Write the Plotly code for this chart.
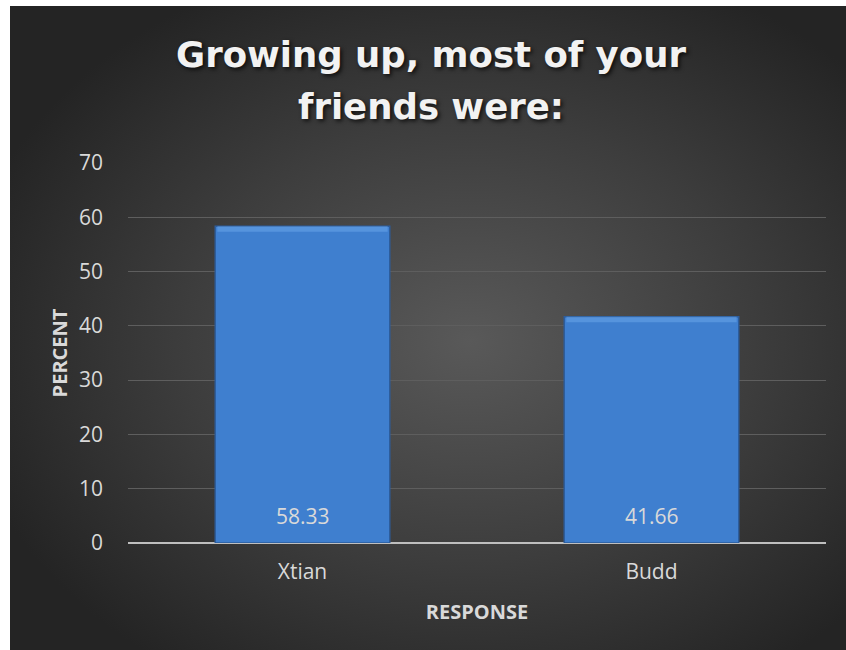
import base64
import plotly.graph_objects as go

# Survey responses
categories = ["Xtian", "Budd"]
percents = [58.33, 41.66]
y_ticks = [0, 10, 20, 30, 40, 50, 60, 70]

title_lines = ["Growing up, most of your", "friends were:"]
x_title = "RESPONSE"
y_title = "PERCENT"

# Dark radial-gradient backdrop drawn as an inline SVG image
svg = """<svg xmlns='http://www.w3.org/2000/svg' width='836' height='644' viewBox='0 0 836 644' preserveAspectRatio='none'>
<defs><radialGradient id='g' cx='55%' cy='52%' r='62%'>
<stop offset='0%' stop-color='#595959'/>
<stop offset='55%' stop-color='#3d3d3d'/>
<stop offset='100%' stop-color='#242424'/>
</radialGradient></defs>
<rect width='836' height='644' fill='url(#g)'/>
</svg>"""
bg_src = "data:image/svg+xml;base64," + base64.b64encode(svg.encode()).decode()

W, H = 846, 650
ml, mr, mt, mb = 128, 20, 163, 107
pw, ph = W - ml - mr, H - mt - mb

FONT = "Open Sans"
TXT = "#d9d9d9"
BAR_W = 0.5

fig = go.Figure()
fig.add_trace(go.Bar(
    x=categories,
    y=percents,
    width=BAR_W,
    marker=dict(color="#3f7fcf", line=dict(color="#2d5d9c", width=1.5)),
    hoverinfo="x+y",
))

# Light bevel along the top edge of each bar
for i, v in enumerate(percents):
    fig.add_shape(
        type="rect", xref="x", yref="y",
        x0=i - BAR_W / 2 + 0.006, x1=i + BAR_W / 2 - 0.006,
        y0=v - 1.0, y1=v,
        fillcolor="#6aa6ea", opacity=0.55, line=dict(width=0), layer="above",
    )

# Value labels near the base of each bar
for c, v in zip(categories, percents):
    fig.add_annotation(
        x=c, y=0, text=f"{v:.2f}", showarrow=False,
        yanchor="middle", yshift=27,
        font=dict(family=FONT, size=21, color=TXT),
    )

# Two-line chart title, placed line by line (pixel rows measured from the top)
for line, y_px in zip(title_lines, [54, 106]):
    fig.add_annotation(
        text=line, showarrow=False,
        xref="paper", yref="paper",
        x=(431 - ml) / pw, y=(H - mb - y_px) / ph,
        xanchor="center", yanchor="middle",
        font=dict(family="DejaVu Sans", size=35.5, color="#f2f2f2",
                  weight="bold", shadow="2px 2px 4px rgba(0,0,0,0.75)"),
    )

fig.update_layout(
    width=W, height=H,
    margin=dict(l=ml, r=mr, t=mt, b=mb, pad=0),
    paper_bgcolor="white",
    plot_bgcolor="rgba(0,0,0,0)",
    showlegend=False,
    bargap=0.5,
    images=[dict(
        source=bg_src, xref="paper", yref="paper",
        x=(10 - ml) / pw, y=(H - mb - 6) / ph,
        sizex=(W - 10) / pw, sizey=(H - 6) / ph,
        xanchor="left", yanchor="top", sizing="stretch", layer="below",
    )],
    xaxis=dict(
        title=dict(text=x_title, standoff=20,
                   font=dict(family=FONT, size=20, color=TXT, weight="bold")),
        tickfont=dict(family=FONT, size=21, color=TXT),
        showgrid=False, showline=False, ticks="", ticklabelstandoff=14,
    ),
    yaxis=dict(
        title=dict(text=y_title, standoff=5,
                   font=dict(family=FONT, size=20, color=TXT, weight="bold")),
        range=[0, 70], tickvals=y_ticks,
        tickfont=dict(family=FONT, size=21, color=TXT),
        gridcolor="#5e5e5e", gridwidth=1,
        zeroline=True, zerolinecolor="#bfbfbf", zerolinewidth=2,
        showline=False, ticks="", ticklabelstandoff=24,
    ),
)

fig.write_html("out.html")
